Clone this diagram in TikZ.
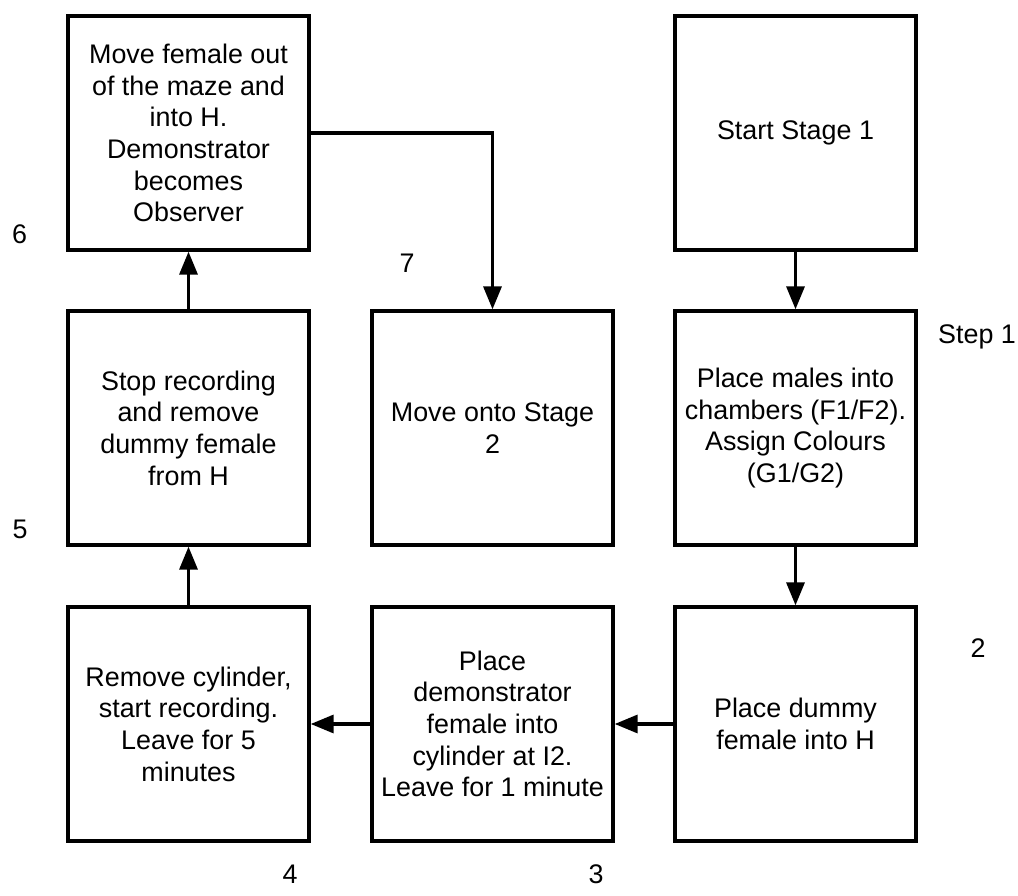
\documentclass[tikz,border=0pt]{standalone}
\usepackage{fontspec}
\setmainfont{Liberation Sans}
\usetikzlibrary{arrows.meta}

\begin{document}
\begin{tikzpicture}[
    block/.style={draw, line width=1.9pt, minimum width=4.82cm, minimum height=4.68cm, inner sep=2pt, align=center, font=\fontsize{15.3}{18}\selectfont},
    arrow/.style={-{Triangle[length=4.6mm, width=3.6mm]}, line width=1.9pt},
    steplabel/.style={font=\fontsize{15.3}{18}\selectfont, inner sep=0pt}
]
\useasboundingbox (0,0) rectangle (20.36,17.9);

% ----------------- boxes -----------------
% top row
\node[block] (movefem) at (3.77, 15.24) {Move female out\\of the maze and\\into H.\\Demonstrator\\becomes\\Observer};
\node[block] (start)   at (15.91, 15.24) {Start Stage 1};

% middle row
\node[block] (stoprec) at (3.77, 9.34)  {Stop recording\\and remove\\dummy female\\from H};
\node[block] (stage2)  at (9.85, 9.34)  {Move onto Stage\\2};
\node[block] (males)   at (15.91, 9.34) {Place males into\\chambers (F1/F2).\\Assign Colours\\(G1/G2)};

% bottom row
\node[block] (cylinder) at (3.77, 3.42)  {Remove cylinder,\\start recording.\\Leave for 5\\minutes};
\node[block] (demo)     at (9.85, 3.42)  {Place\\demonstrator\\female into\\cylinder at I2.\\Leave for 1 minute};
\node[block] (dummy)    at (15.91, 3.42) {Place dummy\\female into H};

% step numbers
\node[steplabel] (n6) at (0.39, 13.22) {6};
\node[steplabel] (n7) at (8.14, 12.64) {7};
\node[steplabel] (n1) at (19.54, 11.16) {Step 1};
\node[steplabel] (n5) at (0.40, 7.32)  {5};
\node[steplabel] (n2) at (19.56, 4.94) {2};
\node[steplabel] (n4) at (5.80, 0.42)  {4};
\node[steplabel] (n3) at (11.92, 0.42) {3};

% ----------------- arrows -----------------
\draw[arrow] (start) -- (males);
\draw[arrow] (males) -- (dummy);
\draw[arrow] (dummy) -- (demo);
\draw[arrow] (demo) -- (cylinder);
\draw[arrow] (cylinder) -- (stoprec);
\draw[arrow] (stoprec) -- (movefem);
\draw[arrow] (movefem.east) -| (stage2.north);

\end{tikzpicture}
\end{document}
